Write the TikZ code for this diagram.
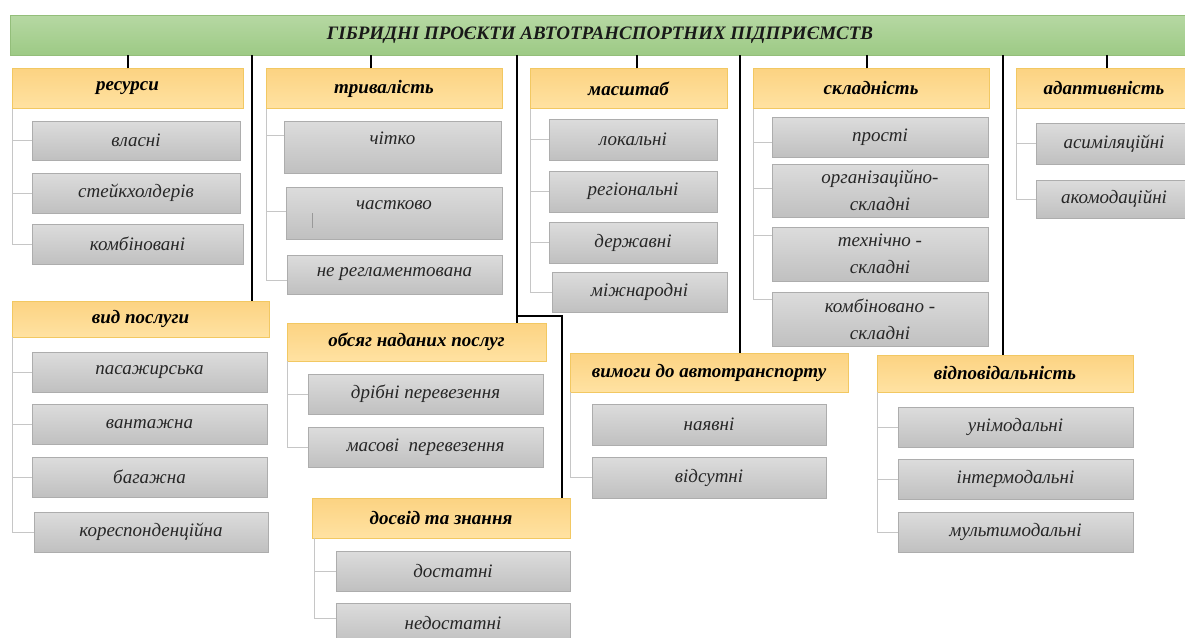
\documentclass[tikz,border=0pt]{standalone}
\usepackage{fontspec}
\setmainfont{Liberation Serif}
\definecolor{ttlT}{HTML}{B6D8A3}
\definecolor{ttlBot}{HTML}{9DCA85}
\definecolor{ttlB}{HTML}{93BE7A}
\definecolor{hdrT}{HTML}{FCD382}
\definecolor{hdrBot}{HTML}{FFE2A2}
\definecolor{hdrB}{HTML}{F2C862}
\definecolor{itmT}{HTML}{DCDCDC}
\definecolor{itmBot}{HTML}{C0C0C0}
\definecolor{itmB}{HTML}{ADADAD}
\definecolor{brkC}{HTML}{C6C6C6}
\begin{document}
\begin{tikzpicture}[x=1pt,y=-1pt,
  ttl/.style={draw=ttlB, top color=ttlT, bottom color=ttlBot, inner sep=0pt,
    font=\fontsize{19}{21}\selectfont\bfseries\itshape, text=black!90},
  hdr/.style={draw=hdrB, top color=hdrT, bottom color=hdrBot, inner sep=0pt,
    font=\fontsize{19}{21}\selectfont\bfseries\itshape, text=black},
  itm/.style={draw=itmB, top color=itmT, bottom color=itmBot, inner sep=0pt, align=center,
    font=\fontsize{19}{27}\selectfont\itshape, text=black!85},
  lbl/.style={font=\fontsize{19}{21}\selectfont\itshape, text=black!85},
  conn/.style={line width=2pt, black},
  brk/.style={line width=0.9pt, brkC},
]
\useasboundingbox (0,0) rectangle (1185,637);
\fill[white] (0,0) rectangle (1185,637);

% title
\node[ttl, minimum width=1180pt, minimum height=40pt] (title) at (600,35) {ГІБРИДНІ ПРОЄКТИ АВТОТРАНСПОРТНИХ ПІДПРИЄМСТВ};

% headers
\node[hdr, minimum width=231pt, minimum height=40pt] (res) at (127.5,88.5) {ресурси};
\node[hdr, minimum width=236pt, minimum height=40pt] (tryv) at (384,88.5) {тривалість};
\node[hdr, minimum width=197pt, minimum height=40pt] (masht) at (628.5,88.5) {масштаб};
\node[hdr, minimum width=236pt, minimum height=40pt] (skl) at (871,88.5) {складність};
\node[hdr, minimum width=176pt, minimum height=40pt] (adapt) at (1104,88.5) {адаптивність};
\node[hdr, minimum width=257pt, minimum height=36pt] (vid) at (140.5,319) {вид послуги};
\node[hdr, minimum width=259pt, minimum height=38pt] (obs) at (416.5,342) {обсяг наданих послуг};
\node[hdr, minimum width=258pt, minimum height=40pt] (dos) at (441,518) {досвід та знання};
\node[hdr, minimum width=278pt, minimum height=39pt] (vym) at (709,372.5) {вимоги до автотранспорту};
\node[hdr, minimum width=256pt, minimum height=37pt] (vidp) at (1005,373.5) {відповідальність};

% connectors from title
\draw[conn] (res.north) -- (res.north |- title.south);
\draw[conn] ([xshift=-13pt]tryv.north) -- ([xshift=-13pt]tryv.north |- title.south);
\draw[conn] ([xshift=8pt]masht.north) -- ([xshift=8pt]masht.north |- title.south);
\draw[conn] ([xshift=-4pt]skl.north) -- ([xshift=-4pt]skl.north |- title.south);
\draw[conn] ([xshift=3pt]adapt.north) -- ([xshift=3pt]adapt.north |- title.south);
\draw[conn] ([xshift=-17pt]vid.north east) -- ([xshift=-17pt]vid.north east |- title.south);
\draw[conn] ([xshift=-29pt]obs.north east) -- ([xshift=-29pt]obs.north east |- title.south);
\draw[conn] ([xshift=-8pt]dos.north east) |- ([xshift=-29pt,yshift=7pt]obs.north east);
\draw[conn] ([xshift=31pt]vym.north) -- ([xshift=31pt]vym.north |- title.south);
\draw[conn] ([xshift=-2pt]vidp.north) -- ([xshift=-2pt]vidp.north |- title.south);

% ресурси
\node[itm, minimum width=208pt, minimum height=39pt] (r1) at (136,140.5) {власні};
\node[itm, minimum width=208pt, minimum height=40pt] (r2) at (136,193) {стейкхолдерів};
\node[itm, minimum width=211pt, minimum height=40pt] (r3) at (137.5,244) {комбіновані};
\draw[brk] ([xshift=0.5pt]res.south west) |- (r3.west);
\draw[brk] (r1.west) -- (r1.west -| res.south west);
\draw[brk] (r2.west) -- (r2.west -| res.south west);

% тривалість
\node[itm, minimum width=217pt, minimum height=52pt, label={[lbl, yshift=9pt]center:чітко}] (t1) at (392.5,147) {};
\node[itm, minimum width=216pt, minimum height=52pt, label={[lbl, yshift=8pt]center:частково}] (t2) at (394,213) {};
\node[itm, minimum width=215pt, minimum height=39pt] (t3) at (394.5,274.5) {не регламентована};
\draw[line width=0.6pt, black!40] ([xshift=26pt]t2.west) -- ([xshift=26pt,yshift=-15pt]t2.west);
\draw[brk] ([xshift=1pt]tryv.south west) |- ([yshift=-5.5pt]t3.west);
\draw[brk] ([yshift=12pt]t1.west) -- ([yshift=12pt]t1.west -| tryv.south west);
\draw[brk] ([yshift=2pt]t2.west) -- ([yshift=2pt]t2.west -| tryv.south west);

% масштаб
\node[itm, minimum width=168pt, minimum height=41pt] (m1) at (633,139.5) {локальні};
\node[itm, minimum width=168pt, minimum height=41pt] (m2) at (633,191.5) {регіональні};
\node[itm, minimum width=168pt, minimum height=41pt] (m3) at (633,242.5) {державні};
\node[itm, minimum width=175pt, minimum height=40pt] (m4) at (639.5,292) {міжнародні};
\draw[brk] ([xshift=1pt]masht.south west) |- (m4.west);
\draw[brk] (m1.west) -- (m1.west -| masht.south west);
\draw[brk] (m2.west) -- (m2.west -| masht.south west);
\draw[brk] (m3.west) -- (m3.west -| masht.south west);

% складність
\node[itm, minimum width=216pt, minimum height=40pt] (s1) at (880,137) {прості};
\node[itm, minimum width=216pt, minimum height=53pt] (s2) at (880,190.5) {організаційно-\\складні};
\node[itm, minimum width=216pt, minimum height=54pt] (s3) at (880,254) {технічно -\\складні};
\node[itm, minimum width=216pt, minimum height=54pt] (s4) at (880,319) {комбіновано -\\складні};
\draw[brk] ([xshift=0.5pt]skl.south west) |- ([yshift=20pt]s4.west);
\draw[brk] ([yshift=-5pt]s1.west) -- ([yshift=-5pt]s1.west -| skl.south west);
\draw[brk] ([yshift=2pt]s2.west) -- ([yshift=2pt]s2.west -| skl.south west);
\draw[brk] ([yshift=19pt]s3.west) -- ([yshift=19pt]s3.west -| skl.south west);

% адаптивність
\node[itm, minimum width=156pt, minimum height=41pt] (a1) at (1114,143.5) {асиміляційні};
\node[itm, minimum width=156pt, minimum height=38pt] (a2) at (1114,199) {акомодаційні};
\draw[brk] ([xshift=1pt]adapt.south west) |- (a2.west);
\draw[brk] (a1.west) -- (a1.west -| adapt.south west);

% вид послуги
\node[itm, minimum width=235pt, minimum height=40pt] (v1) at (149.5,372) {пасажирська};
\node[itm, minimum width=235pt, minimum height=40pt] (v2) at (149.5,424) {вантажна};
\node[itm, minimum width=235pt, minimum height=40pt] (v3) at (149.5,477) {багажна};
\node[itm, minimum width=234pt, minimum height=40pt] (v4) at (151,532) {кореспонденційна};
\draw[brk] ([xshift=0.5pt]vid.south west) |- (v4.west);
\draw[brk] (v1.west) -- (v1.west -| vid.south west);
\draw[brk] (v2.west) -- (v2.west -| vid.south west);
\draw[brk] (v3.west) -- (v3.west -| vid.south west);

% обсяг наданих послуг
\node[itm, minimum width=235pt, minimum height=40pt] (o1) at (425.5,394) {дрібні перевезення};
\node[itm, minimum width=235pt, minimum height=40pt] (o2) at (425.5,447) {масові~ перевезення};
\draw[brk] ([xshift=0.5pt]obs.south west) |- (o2.west);
\draw[brk] (o1.west) -- (o1.west -| obs.south west);

% досвід та знання
\node[itm, minimum width=234pt, minimum height=40pt] (d1) at (453,571) {достатні};
\node[itm, minimum width=234pt, minimum height=40pt] (d2) at (453,623) {недостатні};
\coordinate (dosbr) at ([xshift=3pt]dos.south west);
\draw[brk] (dosbr) |- ([yshift=5pt]d2.west);
\draw[brk] (d1.west) -- (d1.west -| dosbr);

% вимоги до автотранспорту
\node[itm, minimum width=234pt, minimum height=41pt] (y1) at (709,424.5) {наявні};
\node[itm, minimum width=234pt, minimum height=41pt] (y2) at (709,477.5) {відсутні};
\draw[brk] ([xshift=1pt]vym.south west) |- (y2.west);

% відповідальність
\node[itm, minimum width=235pt, minimum height=40pt] (p1) at (1015.5,427) {унімодальні};
\node[itm, minimum width=235pt, minimum height=40pt] (p2) at (1015.5,479) {інтермодальні};
\node[itm, minimum width=235pt, minimum height=40pt] (p3) at (1015.5,532) {мультимодальні};
\draw[brk] ([xshift=0.5pt]vidp.south west) |- (p3.west);
\draw[brk] (p1.west) -- (p1.west -| vidp.south west);
\draw[brk] (p2.west) -- (p2.west -| vidp.south west);
\end{tikzpicture}
\end{document}
